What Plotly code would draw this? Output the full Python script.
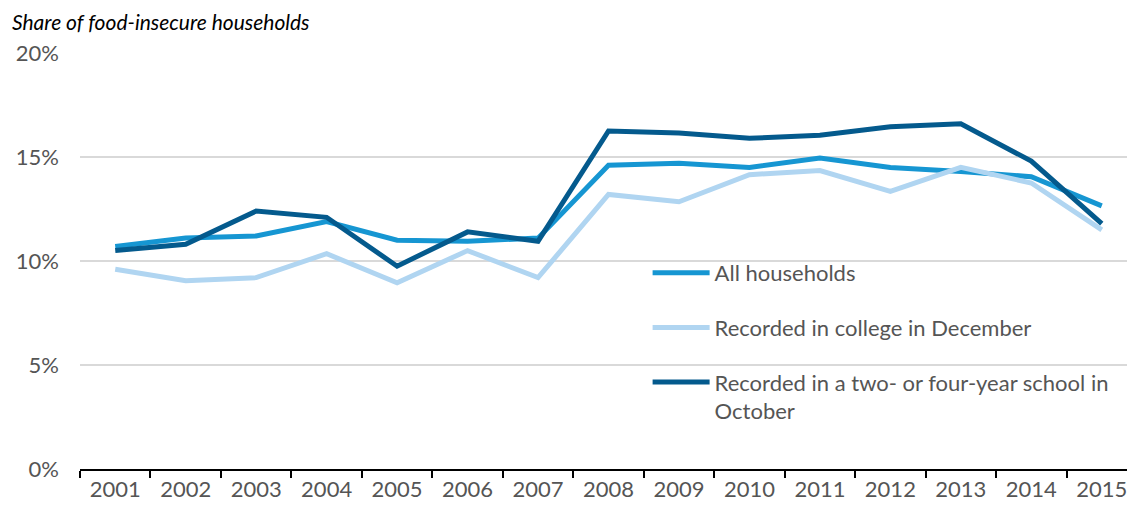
import plotly.graph_objects as go

years = ["2001", "2002", "2003", "2004", "2005", "2006", "2007", "2008",
         "2009", "2010", "2011", "2012", "2013", "2014", "2015"]
all_households = [10.7, 11.1, 11.2, 11.9, 11.0, 10.95, 11.1, 14.6,
                  14.7, 14.5, 14.95, 14.5, 14.3, 14.05, 12.65]
college_december = [9.6, 9.05, 9.2, 10.35, 8.95, 10.5, 9.2, 13.2,
                    12.85, 14.15, 14.35, 13.35, 14.5, 13.75, 11.5]
school_october = [10.5, 10.8, 12.4, 12.1, 9.75, 11.4, 10.95, 16.25,
                  16.15, 15.9, 16.05, 16.45, 16.6, 14.8, 11.8]
y_ticks = [0, 5, 10, 15, 20]
y_tick_labels = ["0%", "5%", "10%", "15%", "20%"]

names = ["All households", "Recorded in college in December",
         "Recorded in a two- or four-year school in<br>October"]
colors = ["#1696d2", "#b0d5f1", "#045a8d"]
series = [all_households, college_december, school_october]

fig = go.Figure()
for i, (name, vals, col) in enumerate(zip(names, series, colors)):
    fig.add_trace(go.Scatter(
        x=years, y=vals, mode="lines", name=name,
        line=dict(color=col, width=5), legendgroup=f"g{i}",
    ))

# the page places the figure 8px from the top-left corner
L, T, PW, PH = 72, 45, 1057, 416
W, H = 1129, 510

font_family = "Lato, 'Open Sans', sans-serif"
fig.update_layout(
    width=W, height=H,
    margin=dict(l=L, r=W - L - PW, t=T, b=H - T - PH),
    paper_bgcolor="white", plot_bgcolor="white",
    font=dict(family=font_family, size=22, color="#555555"),
    showlegend=True,
    legend=dict(
        x=0.537, y=0.5216, xanchor="left", yanchor="top",
        traceorder="grouped", tracegroupgap=23, itemwidth=57, valign="top",
        font=dict(size=22, color="#555555"), bgcolor="rgba(0,0,0,0)",
    ),
    xaxis=dict(
        type="category", range=[-0.5, 14.5],
        showgrid=False, showline=True, linecolor="#000000", linewidth=2,
        ticks="outside", tickson="boundaries", ticklen=7, tickwidth=2,
        tickcolor="#000000", tickfont=dict(size=22, color="#555555"),
        fixedrange=True,
    ),
    yaxis=dict(
        range=[0, 20], tickvals=y_ticks, ticktext=y_tick_labels,
        showgrid=True, gridcolor="#d9d9d9", gridwidth=2,
        zeroline=False, showline=False, ticks="", ticklabelstandoff=20,
        tickfont=dict(size=22, color="#555555"), fixedrange=True,
    ),
    annotations=[dict(
        text="<i>Share of food-insecure households</i>",
        xref="paper", yref="paper", x=(2 - L) / PW, y=1 + (T - 14) / PH,
        xanchor="left", yanchor="middle", showarrow=False,
        font=dict(size=21, color="#000000", family=font_family),
    )],
)

fig.write_html("out.html")
